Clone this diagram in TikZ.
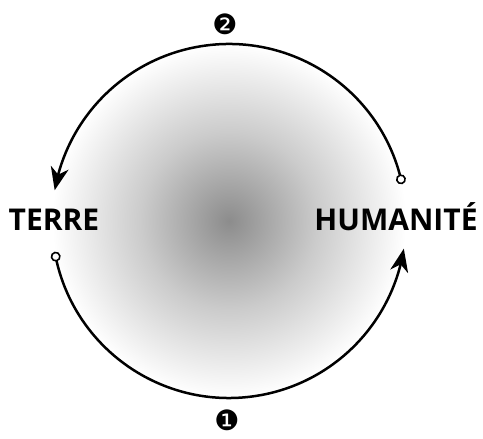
\documentclass[tikz,border=0pt]{standalone}
\usepackage{fontspec}
\setsansfont{Open Sans}
\newfontfamily\dingfont{DejaVu Sans}
\usetikzlibrary{arrows.meta,bending,calc}
\definecolor{CycleInk}{HTML}{000000}
\definecolor{CycleCore}{HTML}{8C8C8C}
\pgfdeclareradialshading{cycledisc}{\pgfpoint{0bp}{0bp}}{%
  color(0bp)=(CycleCore); color(12.5bp)=(CycleCore!45!white);
  color(25bp)=(white); color(50bp)=(white)}

\begin{document}
\begin{tikzpicture}[x=1pt, y=1pt,
    label/.style={font=\sffamily\bfseries\fontsize{30}{31}\selectfont,
                  inner sep=0pt, text=CycleInk},
    stepnum/.style={font=\dingfont\fontsize{28}{28}\selectfont, inner sep=0pt},
    cyclearrow/.style={{Circle[open, length=10pt, width=10pt, fill=white, line width=1.6pt]}-{Stealth[length=23pt, width=18pt, inset=7pt, flex]},
                       line width=2.5pt, draw=CycleInk}
]
\useasboundingbox (0,0) rectangle (483,439);
\coordinate (centre) at (229,218);
\shade[shading=cycledisc] (centre) circle[radius=177];

\node[label] (terre) at (54,219) {TERRE};
\node[label] (humanite) at (396,222) {HUMANITÉ};
\node[stepnum] (two) at (225,415) {❷};
\node[stepnum] (one) at (227,19) {❶};

\coordinate (lowstart) at ($(centre)+(190:177)$);
\coordinate (highstart) at ($(centre)+(12:177)$);
\draw[cyclearrow] (lowstart) arc[start angle=190, end angle=351, radius=177];
\draw[cyclearrow] (highstart) arc[start angle=12, end angle=170, radius=177];
\end{tikzpicture}
\end{document}
